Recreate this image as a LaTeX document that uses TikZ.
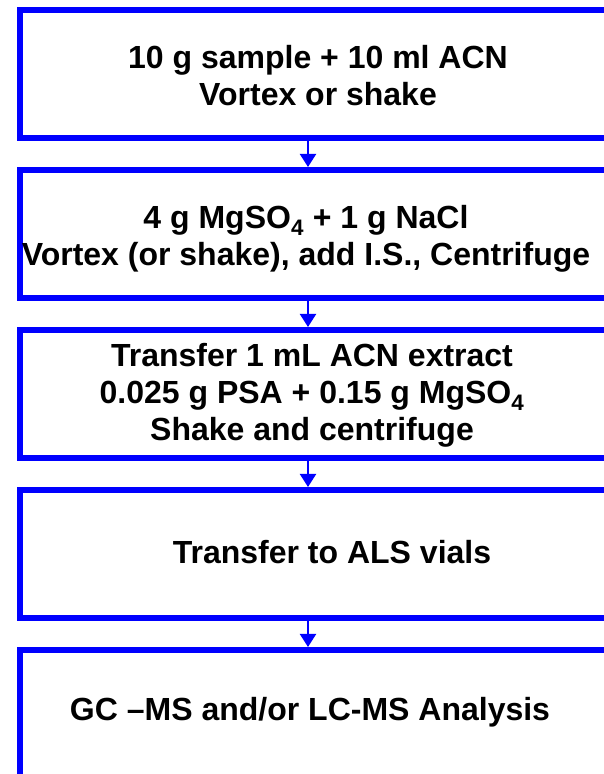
\documentclass[tikz,border=0pt]{standalone}
\usepackage{fontspec}
\setmainfont{Liberation Sans}
\usetikzlibrary{arrows.meta}

\tikzset{
  stepbox/.style={draw=blue, line width=6pt, inner sep=0pt, outer sep=0pt,
    minimum width=620pt, minimum height=128pt, anchor=north west},
  steptext/.style={align=center, inner sep=0pt,
    font=\fontsize{32}{37}\selectfont\bfseries},
  flow/.style={draw=blue, line width=2pt, shorten >=3pt,
    -{Triangle[width=16pt,length=13pt]}}
}

\begin{document}
\begin{tikzpicture}[x=1pt,y=1pt]
            \useasboundingbox (0,0) rectangle (604,774);
            \clip (0,0) rectangle (604,774);

            % boxes, cut off on the right
            \node[stepbox] (box1) at (20,764) {};
            \node[stepbox] (box2) at (20,604) {};
            \node[stepbox] (box3) at (20,444) {};
            \node[stepbox] (box4) at (20,284) {};
            \node[stepbox] (box5) at (20,124) {};

            % texts
            \node[steptext] (txt1) at (318,698) {10 g sample + 10 ml ACN\\Vortex or shake};
            \node[steptext] (txt2) at (306,535) {4 g MgSO\textsubscript{4} + 1 g NaCl\\Vortex (or shake), add I.S., Centrifuge};
            \node[steptext] (txt3) at (312,379) {Transfer 1 mL ACN extract\\0.025 g PSA + 0.15 g MgSO\textsubscript{4}\\Shake and centrifuge};
            \node[steptext] (txt4) at (332,222) {Transfer to ALS vials};
            \node[steptext] (txt5) at (310,62) {GC –MS and/or LC-MS Analysis};

            % arrows down
            \coordinate (axis) at (308,0);
            \draw[flow] (box1.south -| axis) -- (box2.north -| axis);
            \draw[flow] (box2.south -| axis) -- (box3.north -| axis);
            \draw[flow] (box3.south -| axis) -- (box4.north -| axis);
            \draw[flow] (box4.south -| axis) -- (box5.north -| axis);
\end{tikzpicture}
\end{document}
